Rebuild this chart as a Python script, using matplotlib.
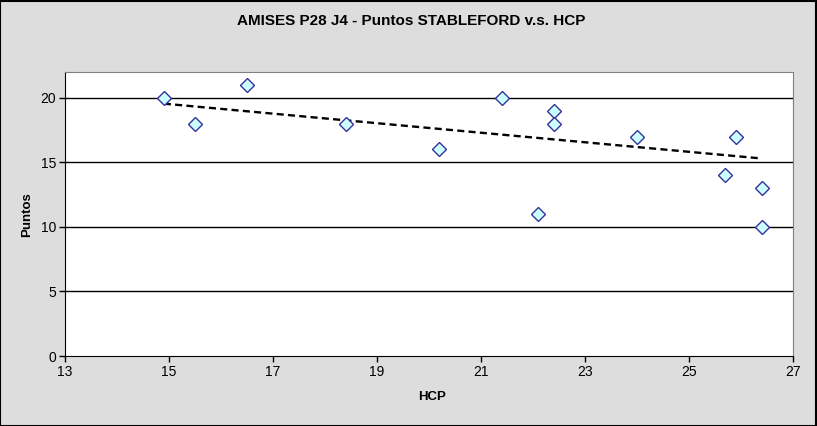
import matplotlib.pyplot as plt

# HCP vs Stableford points
hcp = [14.9, 15.5, 16.5, 18.4, 20.2, 21.4, 22.1, 22.4, 22.4, 24.0, 25.7, 25.9, 26.4, 26.4]
puntos = [20, 18, 21, 18, 16, 20, 11, 19, 18, 17, 14, 17, 13, 10]

# trend line end points as drawn in the chart
trend_x = [14.9, 26.4]
trend_y = [19.55, 15.3]

x_ticks = [13, 15, 17, 19, 21, 23, 25, 27]
y_ticks = [0, 5, 10, 15, 20]

plt.rcParams['font.family'] = ['Liberation Sans', 'DejaVu Sans']

fig = plt.figure(figsize=(8.17, 4.26), dpi=100, facecolor='#dddddd')
fig.patches.append(plt.Rectangle((0.0006, 0.001), 0.998, 0.997, transform=fig.transFigure,
                                 fill=False, edgecolor='black', linewidth=1.5))

ax = fig.add_axes([65 / 817, 1 - 356 / 426, 728 / 817, 284 / 426])
ax.set_facecolor('white')

# horizontal grid
for yv in y_ticks[1:]:
    ax.axhline(yv, color='black', linewidth=1, zorder=1)

# linear trend line
ax.plot(trend_x, trend_y, color='black', linestyle=(0, (3, 1.8)), linewidth=1.7, zorder=2)

ax.plot(hcp, puntos, linestyle='none', marker='D', markersize=7,
        markerfacecolor='#ccffff', markeredgecolor='#333399', markeredgewidth=1, zorder=3)

ax.set_xlim(13, 27)
ax.set_ylim(0, 22)
ax.set_xticks(x_ticks)
ax.set_yticks(y_ticks)
ax.tick_params(direction='out', length=4.5, width=1, color='black', labelsize=10, pad=2)

ax.spines['left'].set_color('black')
ax.spines['bottom'].set_color('black')
ax.spines['top'].set_color('#808080')
ax.spines['right'].set_color('#808080')

fig.text(411 / 817, 1 - 21 / 426, 'AMISES P28 J4 - Puntos STABLEFORD v.s. HCP',
         ha='center', va='center', fontsize=11, fontweight='bold')
fig.text(27 / 817, 1 - 215 / 426, 'Puntos', ha='center', va='center',
         rotation=90, fontsize=9.5, fontweight='bold')
fig.text(432 / 817, 1 - 397 / 426, 'HCP', ha='center', va='center',
         fontsize=9.5, fontweight='bold')

fig.savefig('out.png', dpi=100, facecolor=fig.get_facecolor())
